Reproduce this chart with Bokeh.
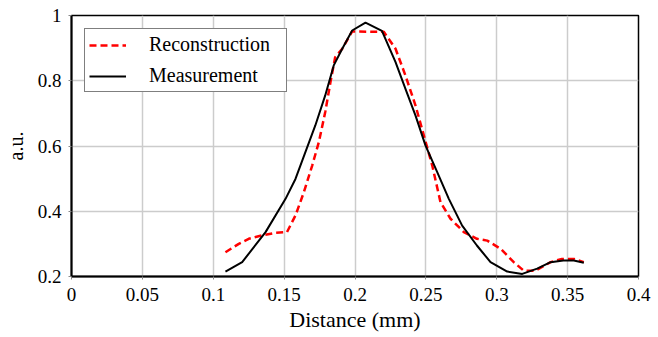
from bokeh.plotting import figure
from bokeh.models import Range1d, FixedTicker, Legend, LegendItem
from bokeh.embed import file_html
from bokeh.resources import INLINE

# Data
meas_x = [0.1086, 0.1204, 0.1369, 0.151, 0.158, 0.165, 0.172, 0.179, 0.185, 0.191,
          0.198, 0.2074, 0.219, 0.2286, 0.2356, 0.2427, 0.2497, 0.258, 0.2662,
          0.2756, 0.286, 0.2956, 0.3074, 0.318, 0.3285, 0.338, 0.347, 0.3544, 0.3614]
meas_y = [0.215, 0.244, 0.336, 0.438, 0.499, 0.581, 0.663, 0.755, 0.847, 0.898,
          0.954, 0.978, 0.953, 0.857, 0.775, 0.693, 0.602, 0.520, 0.438,
          0.356, 0.295, 0.244, 0.215, 0.208, 0.224, 0.244, 0.249, 0.249, 0.242]

recon_x = [0.1086, 0.118, 0.125, 0.1345, 0.144, 0.152, 0.158, 0.1639, 0.1698, 0.1745,
           0.179, 0.1827, 0.186, 0.191, 0.198, 0.2203, 0.2286, 0.2356, 0.2427,
           0.2486, 0.2545, 0.2603, 0.2674, 0.2768, 0.286, 0.2933, 0.3027, 0.312,
           0.319, 0.3273, 0.338, 0.346, 0.3544, 0.3614]
recon_y = [0.2745, 0.300, 0.3155, 0.326, 0.334, 0.336, 0.387, 0.458, 0.540, 0.612,
           0.704, 0.796, 0.872, 0.898, 0.951, 0.950, 0.898, 0.816, 0.724,
           0.632, 0.540, 0.428, 0.377, 0.336, 0.3155, 0.310, 0.285, 0.244,
           0.218, 0.218, 0.244, 0.254, 0.254, 0.244]

x_ticks = [0, 0.05, 0.1, 0.15, 0.2, 0.25, 0.3, 0.35, 0.4]
x_tick_labels = ["0", "0.05", "0.1", "0.15", "0.2", "0.25", "0.3", "0.35", "0.4"]
y_ticks = [0.2, 0.4, 0.6, 0.8, 1.0]
y_tick_labels = ["0.2", "0.4", "0.6", "0.8", "1"]

FONT = "Liberation Serif"

p = figure(width=658, height=337, output_backend="svg", toolbar_location=None,
           x_range=Range1d(0, 0.4), y_range=Range1d(0.2, 1.0),
           min_border_left=71, min_border_right=20, min_border_top=15,
           min_border_bottom=61)

p.outline_line_color = "black"
p.outline_line_width = 1.5
p.background_fill_color = "white"
p.border_fill_color = "white"

for g in (p.xgrid, p.ygrid):
    g.grid_line_color = "#cccccc"
    g.grid_line_width = 1.5

p.xaxis.ticker = FixedTicker(ticks=x_ticks)
p.yaxis.ticker = FixedTicker(ticks=y_ticks)
p.xaxis.major_label_overrides = {t: l for t, l in zip(x_ticks, x_tick_labels)}
p.yaxis.major_label_overrides = {t: l for t, l in zip(y_ticks, y_tick_labels)}

for ax in (p.xaxis, p.yaxis):
    ax.axis_line_color = "black"
    ax.axis_line_width = 2
    ax.major_tick_in = 0
    ax.major_tick_out = 3
    ax.major_tick_line_color = "#888888"
    ax.minor_tick_line_color = None
    ax.major_label_text_font = FONT
    ax.major_label_text_font_size = "19px"
    ax.major_label_text_color = "black"
    ax.axis_label_text_font = FONT
    ax.axis_label_text_font_style = "normal"
    ax.axis_label_text_color = "black"

p.xaxis.axis_label = "Distance (mm)"
p.xaxis.axis_label_text_font_size = "22px"
p.xaxis.major_label_standoff = 8
p.xaxis.axis_label_standoff = 3
p.yaxis.axis_label = "a.u."
p.yaxis.axis_label_text_font_size = "20px"
p.yaxis.major_label_standoff = 7
p.yaxis.axis_label_standoff = 8

r_rec = p.line(recon_x, recon_y, line_color="red", line_width=2.5,
               line_dash="7 4", line_join="round")
r_meas = p.line(meas_x, meas_y, line_color="black", line_width=2,
                line_join="round")

legend = Legend(items=[LegendItem(label="Reconstruction", renderers=[r_rec]),
                       LegendItem(label="Measurement", renderers=[r_meas])],
                location=(13, 184), margin=0, padding=4, spacing=8,
                glyph_width=37, glyph_height=20, label_standoff=23,
                label_width=133, label_height=20,
                label_text_font=FONT, label_text_font_size="20px",
                label_text_color="black",
                border_line_color="black", border_line_width=1.5,
                background_fill_alpha=1.0)
p.add_layout(legend, "center")

open("out.html", "w").write(file_html(p, INLINE))
